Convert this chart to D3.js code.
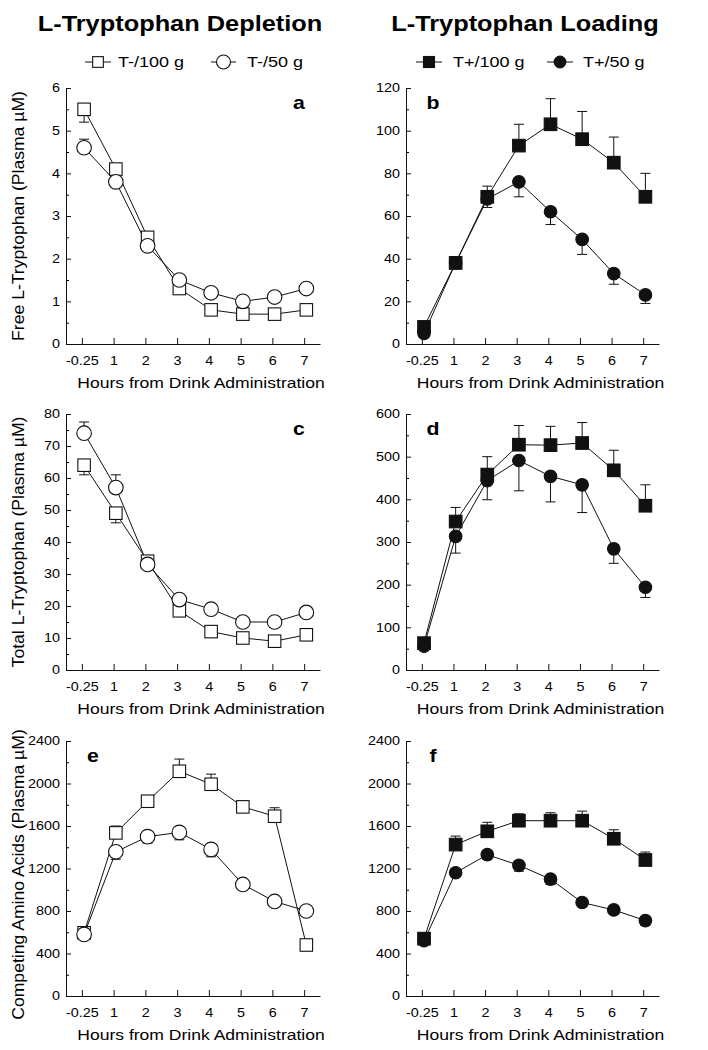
<!DOCTYPE html>
<html><head><meta charset="utf-8">
<script src="https://cdn.jsdelivr.net/npm/d3@7"></script>
<style>
body{margin:0;background:#fff;}
svg{display:block;font-family:"Liberation Sans",Arial,sans-serif;}
</style></head>
<body>
<svg id="chart" width="708" height="1050"></svg>
<script>
// ---- data ----
const hours = ["-0.25","1","2","3","4","5","6","7"];
const freeT100 = [5.5,4.1,2.5,1.3,0.8,0.7,0.7,0.8];
const freeT100Err = [-0.3,-0.1,-0.15,-0.1,-0.1,-0.05,-0.1,-0.07];
const freeT50 = [4.6,3.8,2.3,1.5,1.2,1.0,1.1,1.3];
const freeT50Err = [0.2,0.12,-0.1,-0.08,-0.08,-0.06,-0.08,-0.06];
const freeTp100 = [8,38,69,93,103,96,85,69];
const freeTp100Err = [-3,3,5,10,12,13,12,11];
const freeTp50 = [5,38,68,76,62,49,33,23];
const freeTp50Err = [-2,-2,-4,-7,-6,-7,-5,-4];
const totalT100 = [64,49,34,18.5,12,10,9,11];
const totalT100Err = [-3,-3,-2,-1,-1,-1,-1,-1];
const totalT50 = [74,57,33,22,19,15,15,18];
const totalT50Err = [3.5,4,-1,1,1,1,1,1.5];
const totalTp100 = [63,348,458,528,527,532,468,385];
const totalTp100Err = [5,33,42,45,44,48,47,49];
const totalTp50 = [56,313,444,491,454,434,284,194];
const totalTp50Err = [-5,-39,-45,-71,-60,-65,-34,-24];
const caaT100 = [595,1535,1833,2115,1993,1780,1692,480];
const caaT100Err = [-40,65,50,115,95,20,80,-20];
const caaT50 = [580,1357,1500,1540,1380,1050,890,800];
const caaT50Err = [-30,-70,-60,-70,-70,-50,-50,-20];
const caaTp100 = [540,1425,1550,1650,1650,1650,1480,1280];
const caaTp100Err = [30,80,85,65,75,90,85,75];
const caaTp50 = [520,1160,1330,1230,1100,880,810,710];
const caaTp50Err = [-30,-30,-40,-55,-50,-40,-30,-45];

const titles = ["L-Tryptophan Depletion","L-Tryptophan Loading"];
const legendLeft = ["T-/100 g","T-/50 g"];
const legendRight = ["T+/100 g","T+/50 g"];
const yTitles = ["Free L-Tryptophan (Plasma \u00B5M)","Total L-Tryptophan (Plasma \u00B5M)","Competing Amino Acids (Plasma \u00B5M)"];
const xTitle = "Hours from Drink Administration";
const panelLetters = ["a","b","c","d","e","f"];
const yMaxes = [6,120,80,600,2400,2400];
const ySteps = [1,20,10,100,400,400];

// ---- layout ----
const colX = [[66,320],[406,659]];
const rowY = [[88,344],[414,670],[741,996]];
const INK = "#111";
const svg = d3.select("#chart");

function txt(g, x, y, s, o) {
  o = o || {};
  const sx = o.sx || 1.18;
  const t = g.append("text")
    .attr("transform", `translate(${x},${y})` + (o.rot ? " rotate(-90)" : "") + ` scale(${sx},1)`)
    .attr("text-anchor", o.anchor || "middle")
    .attr("font-size", o.size || 15)
    .attr("font-weight", o.bold ? "bold" : "normal")
    .attr("fill", "#000")
    .text(s);
  return t;
}

function marker(g, type, x, y, size) {
  if (type === "sq" || type === "sqf") {
    g.append("rect").attr("x", x - size/2).attr("y", y - size/2)
      .attr("width", size).attr("height", size)
      .attr("fill", type === "sqf" ? INK : "#fff")
      .attr("stroke", INK).attr("stroke-width", 1.1);
  } else {
    g.append("circle").attr("cx", x).attr("cy", y).attr("r", size/2)
      .attr("fill", type === "cif" ? INK : "#fff")
      .attr("stroke", INK).attr("stroke-width", 1.1);
  }
}
const markerSize = {sq:12.5, ci:14.6, sqf:12.6, cif:12.6};

// titles
txt(svg, 180, 30.5, titles[0], {size:21.5, bold:true, sx:1.18});
txt(svg, 525, 30.5, titles[1], {size:21.5, bold:true, sx:1.18});

// legends
function legend(items, types, lineX, textX) {
  items.forEach((s, i) => {
    const g = svg.append("g");
    g.append("line").attr("x1", lineX[i][0]).attr("x2", lineX[i][1])
      .attr("y1", 62).attr("y2", 62).attr("stroke", INK).attr("stroke-width", 1);
    const t = types[i];
    const sz = t === "sq" ? 10.7 : t === "ci" ? 14 : t === "sqf" ? 11 : 11.7;
    marker(g, t, (lineX[i][0] + lineX[i][1]) / 2, 62, sz);
    txt(g, textX[i], 67, s, {anchor:"start", size:15, sx:1.2});
  });
}
legend(legendLeft, ["sq","ci"], [[85,111],[211,236]], [118,247]);
legend(legendRight, ["sqf","cif"], [[416,442],[547,573]], [453,583]);

const panels = [
  {row:0,col:0,s:[[freeT100,freeT100Err,"sq"],[freeT50,freeT50Err,"ci"]]},
  {row:0,col:1,s:[[freeTp100,freeTp100Err,"sqf"],[freeTp50,freeTp50Err,"cif"]]},
  {row:1,col:0,s:[[totalT100,totalT100Err,"sq"],[totalT50,totalT50Err,"ci"]]},
  {row:1,col:1,s:[[totalTp100,totalTp100Err,"sqf"],[totalTp50,totalTp50Err,"cif"]]},
  {row:2,col:0,s:[[caaT100,caaT100Err,"sq"],[caaT50,caaT50Err,"ci"]]},
  {row:2,col:1,s:[[caaTp100,caaTp100Err,"sqf"],[caaTp50,caaTp50Err,"cif"]]}
];

const TS = 1.2; // tick label stretch
panels.forEach((p, pi) => {
  const [x0, x1] = colX[p.col];
  const [y0, y1] = rowY[p.row];
  const x = d3.scaleLinear().domain([-0.5, 7.5]).range([x0, x1]);
  const y = d3.scaleLinear().domain([0, yMaxes[pi]]).range([y1, y0]);
  const g = svg.append("g");
  const off = 0.07;

  // y axis major
  const ya = g.append("g").attr("transform", `translate(${x0},0)`)
    .call(d3.axisLeft(y).tickValues(d3.range(0, yMaxes[pi] + ySteps[pi]/2, ySteps[pi]))
      .tickSizeInner(-5).tickSizeOuter(0).tickPadding(6).tickFormat(d3.format("d")));
  // y minor
  g.append("g").attr("transform", `translate(${x0},0)`)
    .call(d3.axisLeft(y).tickValues(d3.range(ySteps[pi]/2, yMaxes[pi], ySteps[pi]))
      .tickSizeInner(-3).tickSizeOuter(0).tickFormat(""))
    .select(".domain").remove();
  // x axis
  const xa = g.append("g").attr("transform", `translate(0,${y1})`)
    .call(d3.axisBottom(x).tickValues(d3.range(hours.length))
      .tickFormat(i => hours[i]).tickSizeInner(-6).tickSizeOuter(0).tickPadding(12.5));
  [ya, xa].forEach(a => {
    a.selectAll("path,line").attr("stroke", INK).attr("stroke-width", 1);
    a.selectAll("text").attr("font-size", 12).attr("fill", "#000")
      .attr("font-family", '"Liberation Sans",Arial,sans-serif')
      .attr("transform", `scale(${TS},1)`)
      .attr("x", function(){ const v = +d3.select(this).attr("x"); return isNaN(v) ? null : v / TS; });
  });
  ya.selectAll("text").attr("x", -6 / TS);

  // series
  p.s.forEach(([vals, errs, type]) => {
    const sg = g.append("g");
    // error bars
    vals.forEach((v, i) => {
      const cx = x(i + off), e = v + errs[i];
      sg.append("line").attr("x1", cx).attr("x2", cx).attr("y1", y(v)).attr("y2", y(e))
        .attr("stroke", INK).attr("stroke-width", 1);
      sg.append("line").attr("x1", cx - 5).attr("x2", cx + 5).attr("y1", y(e)).attr("y2", y(e))
        .attr("stroke", INK).attr("stroke-width", 1);
    });
  });
  p.s.forEach(([vals, errs, type]) => {
    g.append("path").datum(vals)
      .attr("d", d3.line().x((d, i) => x(i + off)).y(d => y(d)))
      .attr("fill", "none").attr("stroke", INK).attr("stroke-width", 1);
  });
  p.s.forEach(([vals, errs, type]) => {
    vals.forEach((v, i) => marker(g, type, x(i + off), y(v), markerSize[type]));
  });

  // x title
  txt(g, (x0 + x1) / 2 + 8, y1 + 44, xTitle, {size:15, sx:1.17});
  // y title
  if (p.col === 0) {
    txt(g, 23.5, (y0 + y1) / 2 + (p.row === 2 ? 6 : 0), yTitles[p.row], {size:16, sx:1.1, rot:true});
  }
  // panel letter
  const letterRight = (p.col === 0 && p.row < 2);
  txt(g, letterRight ? x1 - 21 : x0 + 27, y0 + 20.5, panelLetters[pi], {size:18, bold:true, sx:1.18});
});
</script>
</body></html>
